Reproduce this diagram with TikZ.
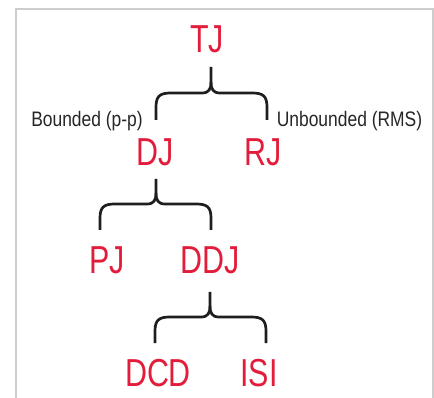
\documentclass[tikz,border=0pt]{standalone}
\usepackage{fontspec}
\setmainfont{Liberation Sans}
\newfontfamily\condfont[FakeStretch=0.78]{Liberation Sans}
\newfontfamily\labfont[FakeStretch=0.83]{Liberation Sans}
\definecolor{jred}{RGB}{226,28,58}
\definecolor{framegray}{RGB}{205,205,205}
\definecolor{bracegray}{RGB}{30,30,30}
\newcommand\mybrace[6]{% xl xr xm yt yh yb
  \draw[bracestyle] (#1,#6) -- (#1,#5+14) .. controls (#1,#5+3) and (#1+4,#5) .. (#1+15,#5)
    -- (#3-9,#5) .. controls (#3-2,#5) and (#3,#5-4) .. (#3,#5-11) -- (#3,#4);
  \draw[bracestyle] (#3,#5-11) .. controls (#3,#5-4) and (#3+2,#5) .. (#3+9,#5)
    -- (#2-15,#5) .. controls (#2-4,#5) and (#2,#5+3) .. (#2,#5+14) -- (#2,#6);
}
\begin{document}
\begin{tikzpicture}[x=1pt,y=-1pt,
  term/.style={anchor=base,inner sep=0pt,text=jred,font=\condfont\fontsize{39}{39}\selectfont},
  lab/.style={anchor=base,inner sep=0pt,text=black!85,font=\labfont\fontsize{21}{21}\selectfont},
  bracestyle/.style={draw=bracegray,line width=2.7pt,line cap=butt,line join=round}]
\useasboundingbox (0,0) rectangle (434,398);
\draw[framegray,line width=1.5pt] (16,398) -- (16,9) -- (433,9) -- (433,398);
\node[term] (tj) at (207,53) {TJ};
\node[term] (dj) at (155.5,166) {DJ};
\node[term] (rj) at (263,166) {RJ};
\node[term] (pj) at (107,273) {PJ};
\node[term] (ddj) at (210.5,273) {DDJ};
\node[term] (dcd) at (158,386) {DCD};
\node[term] (isi) at (259,386) {ISI};
\node[lab] (bnd) at (87,127) {Bounded (p-p)};
\node[lab] (unb) at (349.5,127) {Unbounded (RMS)};
\mybrace{156}{267}{211}{67}{93}{120}
\mybrace{100}{211}{156}{179}{204}{230}
\mybrace{155}{266}{210}{292}{317}{343}
\end{tikzpicture}
\end{document}
